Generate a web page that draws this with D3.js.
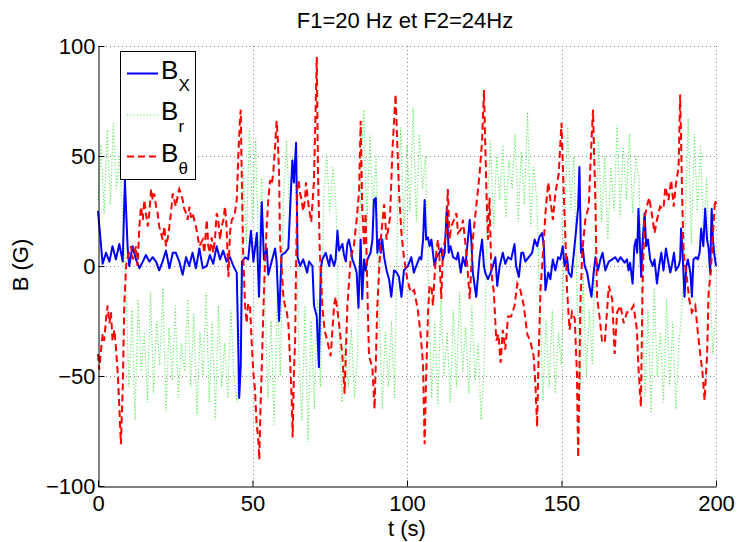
<!DOCTYPE html>
<html><head><meta charset="utf-8">
<script src="https://cdn.jsdelivr.net/npm/d3@7"></script>
<style>
html,body{margin:0;padding:0;background:#fff;}
svg text{font-family:"Liberation Sans",Arial,Helvetica,sans-serif;fill:#000;}
</style></head>
<body>
<svg id="chart" width="737" height="542"></svg>
<script>
const title = "F1=20 Hz et F2=24Hz";
const xLabel = "t (s)";
const yLabel = "B (G)";
const xTicks = [0, 50, 100, 150, 200];
const xTickLabels = ["0", "50", "100", "150", "200"];
const yTicks = [-100, -50, 0, 50, 100];
const yTickLabels = ["\u2212100", "\u221250", "0", "50", "100"];
const seriesNames = ["X", "r", "\u03b8"];

// B_X : [t, value]
const bx = [[0,25],[1.5,1],[2.6,6],[3.7,2],[4.7,9],[5.8,3],[6.9,10],[8.0,2],[8.7,39],[9.6,8],[10.1,0],[11.2,9],[12.3,3],[13.4,-1],[14.5,2],[15.5,5],[16.6,2],[17.7,4],[18.8,2],[19.8,-2],[20.9,2],[22,7],[23.1,-1],[24.2,6],[25.2,6],[26.3,2],[27.4,-4],[28.5,4],[29.5,0],[30.6,6],[31.7,-1],[32.8,8],[33.9,-1],
[35.2,0],[36.2,5],[37.3,1],[38.4,9],[39.5,3],[40.5,7],[41.6,2],[42.7,4],[43.8,0],[44.9,-3],[45.3,-30],[45.7,-60],[46.2,-45],[46.6,2],[47.6,4],[48.6,3],[49.5,16],[50.3,2],[50.8,8],[51.4,15],[52.1,-14],[53,29],[53.7,3],[54.6,8],[55.1,-4],[56.2,2],[57.3,8],[57.8,2],[58.6,-25],[59.4,5],[60.5,6],[61.6,8],[62.3,30],[62.9,48],[63.4,38],[64.1,56],[64.6,4],[65.4,0],[66.4,3],
[67.7,-3],[68.3,2],[69.4,0],[69.9,-18],[70.8,-23],[71.5,-46],[72.1,-1],[72.6,3],[73.7,6],[74.8,0],[75.3,5],[76.4,0],[76.9,3],[77.5,16],[78,7],[79.1,10],[79.6,5],[80.2,2],[80.7,10],[81.2,12],[81.8,8],[82.3,3],[83.1,0],[83.7,-3],[84.3,-19],[85,12],[85.5,-15],[86.1,3],[86.6,-2],[87.2,3],[88.2,6],[88.8,12],[89.3,30],[89.9,31],[90.4,6],[91,12],[91.5,6],[92,12],[92.6,4],[93.4,-2],[94.2,-6],[94.9,-14],[95.8,-2],[96.7,-3],[97.4,-5],[98.2,-14],[99,-2],
[100.3,0],[101.4,4],[102.2,-3],[103,0],[104.1,4],[104.6,3],[105.2,12],[105.7,30],[106.2,12],[106.8,13],[107.3,9],[107.9,12],[108.4,6],[108.9,0],[109.5,4],[110.5,6],[111.1,8],[111.6,3],[112.2,6],[112.9,27],[113.5,6],[114.1,9],[114.9,4],[116,3],[116.5,6],[117.4,-3],[118.1,4],[118.9,0],[119.7,12],[120.3,21],[120.8,12],[121.3,-3],[122.4,-14],[123.5,4],[124.3,12],[124.9,0],[125.3,-3],[126.2,-6],[127.1,-3],[127.8,0],[128.6,4],[129.2,-9],[130,0],[131,6],[131.8,1],[132.7,4],[133.7,3],[134.8,10],
[135.3,0],[136.2,-5],[137,6],[137.6,6],[138.3,2],[139.4,4],[140.5,6],[141.3,12],[142.1,9],[142.8,13],[143.7,15],[144.3,9],[144.8,-11],[145.7,-3],[146.4,-6],[147.2,3],[148,-2],[148.9,4],[149.6,3],[150.4,9],[151,0],[151.8,4],[152.3,-3],[153.2,-5],[154,6],[154.7,16],[155.4,27],[155.8,45],[156.3,6],[156.9,8],[157.5,0],[158.3,-3],[159,-9],[159.7,-14],[160.4,-3],[161,4],[161.8,-2],[162.6,3],[163.3,6],[164.2,-2],[165.3,2],[166.4,3],[167.4,4],[168.3,2],[169.1,4],
[170.4,1.5],[171.2,3],[171.7,-2],[172.2,1.5],[173,-8],[173.6,9],[174.1,12],[174.5,6],[174.9,26],[175.5,6],[175.8,-5],[176.3,12],[176.9,24],[177.4,9],[178,12],[178.7,3],[179.5,0],[180.1,3],[180.9,-8],[181.6,0],[182.3,6],[183,-2],[183.8,8],[184.4,3],[185.2,-3],[185.7,0],[186.4,6],[187,-2],[187.9,0],[188.4,3],[188.7,17],[189.2,6],[189.8,-14],[190.4,0],[190.9,3],[191.7,-3],[192.2,-14],[192.7,3],[193.5,4],[194.1,3],[194.7,6],[195.2,17],[195.9,9],[196.5,26],[197.1,12],[197.6,8],[198.1,-3],[198.6,26],[199,12],[199.4,6],[200,0]];

// B_r : one value per second, t = 0..200
const br = [30,55,24,62,28,65,35,50,20,
-8,-55,-20,-70,-15,-48,-30,-62,-12,-58,-25,-45,-10,-66,-28,-52,-18,-60,-35,-48,-15,-55,-22,-68,-30,-50,-12,-62,-25,-70,-18,-55,-35,-60,-20,-50,-62,
-25,
45,10,62,20,58,5,40,
-15,-60,-25,-72,-12,-50,
30,57,25,50,35,
-40,-70,-18,-80,-25,-65,-15,-55,
30,51,24,45,28,
-30,-62,-35,-55,-28,-60,-40,
40,71,18,60,25,50,
-22,-65,-30,-55,-25,-60,
30,63,15,55,25,72,20,60,35,50,
-10,-60,-25,-64,-15,-50,-30,-62,-20,-55,-12,-48,-28,-58,-18,-52,-35,-70,-45,
25,57,18,50,30,55,22,48,35,60,20,52,28,70,18,45,30,
-15,-61,-25,-55,-20,-58,-30,-45,
20,64,25,50,
-10,-55,-3,-50,-20,-45,
15,57,20,50,12,45,25,64,22,55,30,60,24,50,40,
-5,-60,-20,-67,-10,-50,-30,-62,-15,-55,-25,-65,-35,-20,
20,67,10,60,25,55,15,40,
-10,-40,-20];

// B_theta : [t, value]
const bt = [[0,-40],[0.4,-47],[1.0,-38],[1.5,-31],[2.0,-34],[2.6,-24],[3.1,-18],[3.7,-26],[4.2,-21],[4.7,-34],[5.3,-29],[5.8,-37],[6.4,-49],[6.9,-64],[7.4,-81],[8.0,-56],[8.5,-18],[9.1,0],[9.6,4],[10.1,6],[10.7,9],[11.2,3],[11.8,6],[12.3,9],[12.8,0],[13.4,18],[13.9,27],[14.5,21],[15,30],[15.5,24],[16.1,18],[16.6,24],[17.2,35],[17.7,30],[18.2,33],[18.8,27],[19.3,24],[19.8,18],[20.4,15],[20.9,12],[21.5,18],[22,9],[22.5,12],[23.1,18],[23.6,24],[24.2,33],[24.7,30],[25.2,27],[25.8,32],[26.3,35],[26.9,33],[27.4,30],[27.9,26],[28.5,24],[29,21],[29.6,27],[30.1,22],[30.6,24],[31.7,18],[32.3,13],[32.8,9],[33.9,12],[34.4,6],
[35.2,21],[35.7,9],[36.2,6],[36.8,13],[37.3,6],[37.9,13],[38.4,24],[38.9,21],[39.5,12],[40,18],[40.6,21],[41.1,27],[41.6,18],[42.2,-5],[42.7,15],[43.3,21],[43.8,22],[44.3,24],[44.9,30],[45.4,50],[45.9,65],[46.2,71],[46.5,42],[46.8,20],[47,4],[47.6,-18],[48.1,-26],[48.6,-17],[49.2,-18],[49.7,-34],[50.3,-49],[50.8,-56],[51.3,-71],[51.9,-79],[52.2,-88],[52.6,-64],[53.1,-41],[53.5,-21],[54,0],[54.6,18],[55.1,30],[55.7,39],[56.2,37],[56.7,42],[57.3,54],[57.8,66],[58.1,60],[58.6,42],[58.9,12],[59.4,0],[60,-14],[60.5,-18],[61.1,-21],[61.6,-26],[62.1,-41],[62.7,-61],[63,-78],[63.4,-49],[63.8,-34],[64.1,0],[64.5,35],[64.9,39],[65.4,33],[65.9,30],[66.4,25],[67,30],[67.3,38],[67.7,33],[68.2,27],
[69,20],[69.9,39],[70.4,70],[70.8,95],[71.2,42],[71.8,6],[72.6,-18],[73.3,-29],[74.2,-34],[75.3,-41],[76.4,-18],[76.9,-14],[78,-26],[79.1,-41],[79.8,-58],[80.7,-18],[81.8,4],[82.8,9],[83.7,21],[84.5,34],[85,66],[85.5,27],[86.1,9],[86.6,24],[87.2,-12],[87.7,-41],[88.8,-46],[89.5,-65],[90.4,-18],[91.5,12],[92.6,28],[93.4,12],[94.5,22],[95.3,53],[96.3,78],[97.4,34],[98.2,15],[99,4],[100.1,-6],[101.2,-12],[102.3,-11],
[103.5,-20],[104.4,-31],[105.2,-45],[105.7,-81],[106.2,-50],[106.8,-21],[107.3,-9],[107.9,-9],[108.4,-18],[108.9,-5],[109.5,6],[110,12],[110.5,4],[111.1,-15],[111.6,6],[112.7,15],[113.2,35],[113.8,12],[114.3,18],[115.2,21],[116,24],[116.5,15],[117.6,17],[118.1,21],[119.2,6],[120.3,-15],[121.3,12],[122.4,27],[123.5,42],[124.3,57],[124.9,80],[125.7,34],[126.2,12],[126.7,31],[127.3,-3],[128.1,-12],[128.9,-34],[129.6,-31],[130.3,-44],[131,-29],[131.8,-38],[132.7,-23],[133.7,-23],[134.8,-18],[135.7,-8],
[136.7,-11],[137.8,-18],[138.9,-31],[139.9,-34],[141,-41],[141.6,-55],[142.1,-73],[142.6,-40],[143.2,-11],[144.3,12],[144.8,24],[145.7,38],[146.4,30],[147.2,21],[148,33],[149.1,42],[150,65],[150.7,34],[151.3,12],[151.8,-11],[152.6,-29],[153.4,-21],[154.3,-24],[155,-49],[155.4,-87],[155.8,-50],[156.1,-18],[156.7,6],[157.7,21],[158.8,27],[159.7,57],[160.2,71],[161,27],[161.5,-14],[162.3,-23],[163.1,-34],[164,-35],[165.3,-9],[166.4,-15],[167.2,-40],[168,-21],[169.1,-18],
[170.1,-26],[171.2,-21],[172.2,-21],[173.3,-18],[174.4,-29],[174.9,-46],[175.7,-64],[176.2,-12],[176.8,21],[177.6,27],[178.4,31],[179.2,24],[180.1,15],[180.9,21],[181.9,27],[183,26],[183.6,36],[184.6,30],[185.5,39],[186.3,27],[187,37],[187.9,45],[188.4,78],[189,35],[189.5,6],[190.6,-6],[191.3,-15],[192.2,-21],[193.3,-18],[194.1,-30],[194.9,-40],[195.6,-48],[196.3,-61],[197.1,-41],[197.6,-12],[198.3,-3],[198.9,12],[199.7,30],[200,28]];

const svg = d3.select("#chart");
const L = 98, R = 716, T = 46, B = 486;
const x = d3.scaleLinear().domain([0, 200]).range([L, R]);
const y = d3.scaleLinear().domain([-100, 100]).range([B, T]);

// grid
const grid = svg.append("g").attr("stroke", "#888").attr("stroke-dasharray", "1,3").attr("stroke-width", 1);
xTicks.filter(d => d !== 0).forEach(d => {
  grid.append("line").attr("x1", Math.round(x(d)) + 0.5).attr("x2", Math.round(x(d)) + 0.5).attr("y1", T).attr("y2", B);
});
yTicks.filter(d => d !== -100).forEach(d => {
  grid.append("line").attr("y1", Math.round(y(d)) + 0.5).attr("y2", Math.round(y(d)) + 0.5).attr("x1", L).attr("x2", R);
});

const line = d3.line().x(d => x(d[0])).y(d => y(d[1]));
const brPts = br.map((v, i) => [i, v]);

const plot = svg.append("g");
plot.append("path").datum(brPts).attr("d", line).attr("fill", "none")
  .attr("stroke", "#44ee44").attr("stroke-width", 1.2).attr("stroke-dasharray", "1,2.3");
plot.append("path").datum(bx).attr("d", line).attr("fill", "none")
  .attr("stroke", "#0000ff").attr("stroke-width", 2).attr("stroke-linejoin", "round");
plot.append("path").datum(bt).attr("d", line).attr("fill", "none")
  .attr("stroke", "#ff0000").attr("stroke-width", 2).attr("stroke-dasharray", "7,4");

// axes
const axL = d3.axisLeft(y).tickValues(yTicks).tickFormat((d, i) => yTickLabels[i])
  .tickSizeInner(-6).tickSizeOuter(0).tickPadding(3);
const gy = svg.append("g").attr("transform", `translate(${L + 0.5},0)`).call(axL);
const axB = d3.axisBottom(x).tickValues(xTicks).tickFormat((d, i) => xTickLabels[i])
  .tickSizeInner(-6).tickSizeOuter(0).tickPadding(9);
const gx = svg.append("g").attr("transform", `translate(0,${B + 0.5})`).call(axB);
[gx, gy].forEach(g => {
  g.selectAll("text").style("font-size", "22px").attr("fill", "#000")
   .style("font-family", '"Liberation Sans", Arial, sans-serif');
  g.selectAll("line,path").attr("stroke", "#000");
});

// title & labels
svg.append("text").attr("x", 405).attr("y", 28).attr("text-anchor", "middle")
  .style("font-size", "22px").text(title);
svg.append("text").attr("x", 407).attr("y", 536).attr("text-anchor", "middle")
  .style("font-size", "22px").text(xLabel);
svg.append("text").attr("transform", "translate(28,265) rotate(-90)").attr("text-anchor", "middle")
  .style("font-size", "22px").text(yLabel);

// legend
const lg = svg.append("g");
lg.append("rect").attr("x", 120.5).attr("y", 51.5).attr("width", 75).attr("height", 128)
  .attr("fill", "#fff").attr("stroke", "#000").attr("stroke-width", 1);
const legendStyles = [
  {stroke: "#0000ff", w: 2, dash: null},
  {stroke: "#44ee44", w: 1.2, dash: "1,2.3"},
  {stroke: "#ff0000", w: 2, dash: "7,4"}
];
const legendY = [73.5, 115, 156.5];
seriesNames.forEach((n, i) => {
  const ly = legendY[i];
  const st = legendStyles[i];
  const l = lg.append("line").attr("x1", 127).attr("x2", 158).attr("y1", ly).attr("y2", ly)
    .attr("stroke", st.stroke).attr("stroke-width", st.w);
  if (st.dash) l.attr("stroke-dasharray", st.dash);
  lg.append("text").attr("x", 161).attr("y", ly + 5).style("font-size", "26px").text("B");
  lg.append("text").attr("x", 178.5).attr("y", ly + 17).style("font-size", "17px").text(n);
});
</script>
</body></html>
